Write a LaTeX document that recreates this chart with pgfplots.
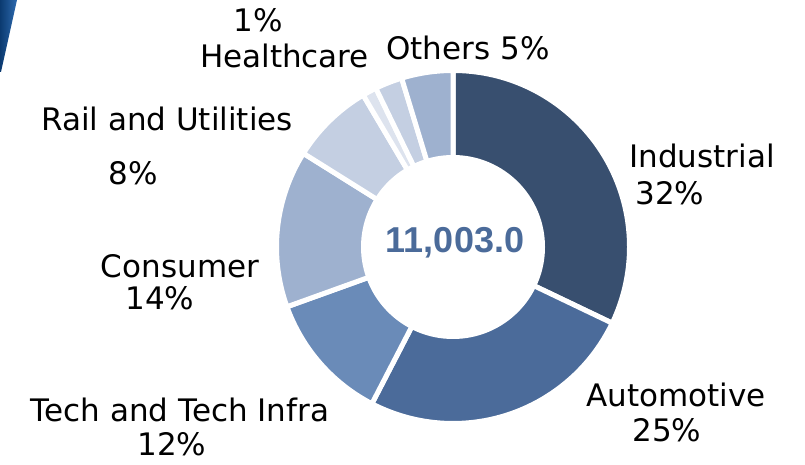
\documentclass[border=0pt]{standalone}
\usepackage{pgfplots}
\usepackage{pgfplotstable}
\pgfplotsset{compat=1.18}
\usepackage{fontspec}
\setmainfont{DejaVu Sans}
\newfontfamily\numfont{Liberation Sans}
\definecolor{cInd}{HTML}{384F6F}
\definecolor{cAut}{HTML}{4B6B9A}
\definecolor{cTec}{HTML}{6A8BB8}
\definecolor{cCon}{HTML}{9EB1CF}
\definecolor{cRai}{HTML}{C4CFE2}
\definecolor{cHea}{HTML}{DDE3EE}
\definecolor{cOth}{HTML}{9EB1CF}
\definecolor{cUnl}{HTML}{C4CFE2}
\definecolor{cNum}{HTML}{4B6B9A}
\definecolor{bandA}{HTML}{0B3A70}
\definecolor{bandB}{HTML}{2E6BB0}

% share of each segment (percent), clockwise from 12 o'clock
\pgfplotstableread[col sep=comma]{
name,value,col
Industrial,32.1,cInd
Automotive,25.5,cAut
Tech and Tech Infra,11.9,cTec
Consumer,14.4,cCon
Rail and Utilities,7.6,cRai
Healthcare,1.3,cHea
Unlabelled,2.5,cUnl
Others,4.7,cOth
}\segs

\begin{document}
\begin{tikzpicture}
\useasboundingbox (0,0) rectangle (805pt,465pt);
\begin{axis}[at={(0,0)}, anchor=south west,
  width=805pt, height=465pt, scale only axis,
  xmin=0, xmax=805, ymin=0, ymax=465,
  hide axis, clip=false]
\gdef\cum{0}
\pgfplotsinvokeforeach{0,...,7}{%
  \pgfplotstablegetelem{#1}{value}\of\segs
  \pgfmathsetmacro\aA{90-3.6*\cum}%
  \pgfmathsetmacro\newcum{\cum+\pgfplotsretval}%
  \pgfmathsetmacro\aB{90-3.6*\newcum}%
  \xdef\cum{\newcum}%
  \pgfplotstablegetelem{#1}{col}\of\segs
  \edef\temp{\noexpand\fill[fill=\pgfplotsretval, draw=white, line width=5pt, line join=miter]
    (axis cs:453,218) -- ++(\aA:176.5pt) arc[start angle=\aA, end angle=\aB, radius=176.5pt] -- cycle;}%
  \temp
}
\fill[white] (axis cs:453,218) circle[radius=92pt];
\node[anchor=base, text=cNum, font=\numfont\bfseries\fontsize{36}{40}\selectfont] at (axis cs:455,212) {11,003.0};

\begin{scope}[every node/.style={anchor=base, text=black, font=\fontsize{31}{37}\selectfont, inner sep=0pt}]
\node at (axis cs:702,297) {Industrial};
\node at (axis cs:670,260) {32\%};
\node at (axis cs:676,58) {Automotive};
\node at (axis cs:667,23) {25\%};
\node at (axis cs:180,43) {Tech and Tech Infra};
\node at (axis cs:172,9) {12\%};
\node at (axis cs:180,187) {Consumer};
\node at (axis cs:160,155) {14\%};
\node at (axis cs:167,334) {Rail and Utilities};
\node at (axis cs:133,280) {8\%};
\node at (axis cs:258,433) {1\%};
\node at (axis cs:284.5,397) {Healthcare};
\node at (axis cs:468,405) {Others 5\%};
\end{scope}
\shade[left color=bandA, right color=bandB] (axis cs:0,465) -- (axis cs:17,465) -- (axis cs:1,393) -- (axis cs:0,393) -- cycle;
\end{axis}
\end{tikzpicture}
\end{document}
